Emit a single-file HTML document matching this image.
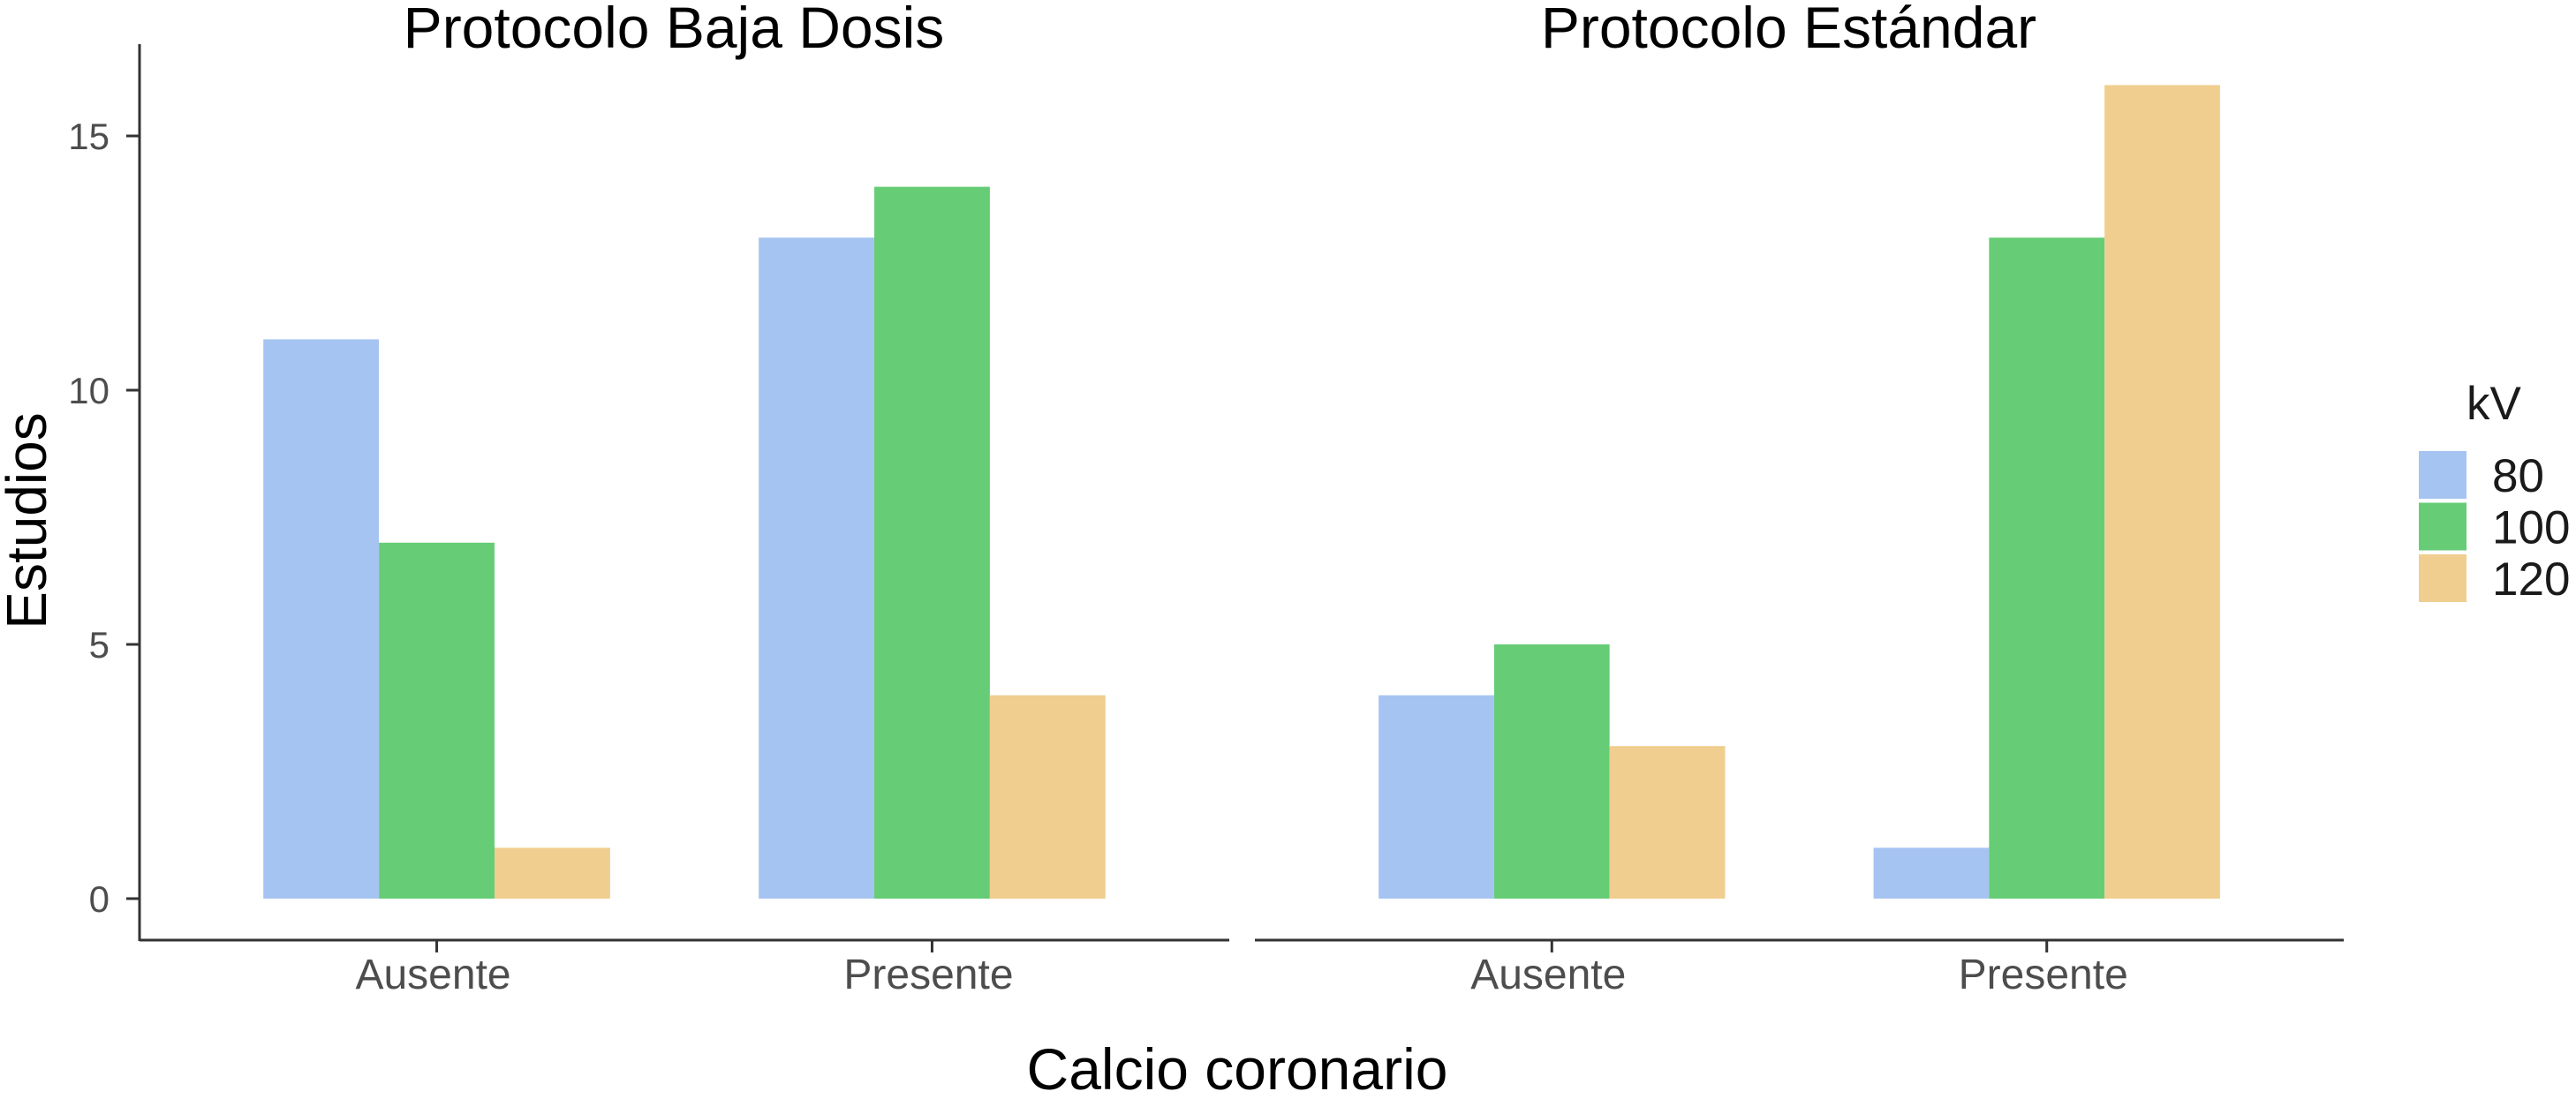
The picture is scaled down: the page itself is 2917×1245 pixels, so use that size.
<!DOCTYPE html>
<html><head><meta charset="utf-8"><style>
html,body{margin:0;padding:0;background:#fff;}
svg{display:block;font-family:"Liberation Sans",sans-serif;}
</style></head><body>
<svg id="chart" width="2917" height="1245" viewBox="0 0 2917 1245" xmlns="http://www.w3.org/2000/svg">
<g id="panels"></g>
<text x="0" y="0" transform="translate(52,590) rotate(-90)" text-anchor="middle" font-size="64" fill="#000">Estudios</text>
<text x="1401" y="1234" text-anchor="middle" font-size="66" fill="#000">Calcio coronario</text>
<g>
<text x="2793" y="475" font-size="53" fill="#1a1a1a">kV</text>
<g id="legend-items"></g>
</g>
</svg>
<script>
const panels = ["Protocolo Baja Dosis", "Protocolo Estándar"];
const categories = ["Ausente", "Presente"];
const series = ["80", "100", "120"];
const colors = ["#a6c4f2", "#66cd76", "#f0ce8f"];
const bajaValues = [[11, 7, 1], [13, 14, 4]];
const estandarValues = [[4, 5, 3], [1, 13, 16]];
const yTicks = [0, 5, 10, 15];

const NS = "http://www.w3.org/2000/svg";
const panelX = [[158, 1392], [1421, 2654]];
const y0 = 1018, unit = 57.6;
const yScale = v => y0 - v * unit;
function mk(tag, attrs, parent) {
  const e = document.createElementNS(NS, tag);
  for (const k in attrs) e.setAttribute(k, attrs[k]);
  parent.appendChild(e);
  return e;
}
const g = document.getElementById("panels");
const allValues = [bajaValues, estandarValues];
panels.forEach((title, p) => {
  const [x0, x1] = panelX[p];
  const step = (x1 - x0) / (categories.length - 1 + 1.2);
  const xScale = i => x0 + step * (0.6 + i);
  const t = mk("text", {x: (x0 + x1) / 2 - 12, y: 54, "text-anchor": "middle", "font-size": 66, fill: "#000"}, g);
  
  
  t.textContent = title;
  const ax = mk("line", {x1: x0, x2: x1, y1: 1065, y2: 1065, stroke: "#333", "stroke-width": 3}, g);
  
  
  const bw = step * 0.7 / series.length;
  categories.forEach((c, i) => {
    const cx = xScale(i);
    allValues[p][i].forEach((v, s) => {
      const r = mk("rect", {x: cx - step * 0.35 + s * bw, y: yScale(v), width: bw, height: y0 - yScale(v), fill: colors[s]}, g);
      
      
    });
    const tk = mk("line", {x1: cx, x2: cx, y1: 1065, y2: 1079, stroke: "#333", "stroke-width": 3}, g);
    
    
    const lb = mk("text", {x: cx - 4, y: 1120, "text-anchor": "middle", "font-size": 48, fill: "#4d4d4d"}, g);
    
    
    lb.textContent = c;
  });
  if (p === 0) {
    const ya = mk("line", {x1: x0, x2: x0, y1: 50, y2: 1066, stroke: "#333", "stroke-width": 3}, g);
    
    
    yTicks.forEach(v => {
      const tk = mk("line", {x1: x0 - 15, x2: x0, y1: yScale(v), y2: yScale(v), stroke: "#333", "stroke-width": 3}, g);
      
      
      const lb = mk("text", {x: x0 - 34, y: yScale(v) + 15, "text-anchor": "end", "font-size": 42, fill: "#4d4d4d"}, g);
      
      
      lb.textContent = v;
    });
  }
});
const lg = document.getElementById("legend-items");
series.forEach((s, i) => {
  const y = 511 + i * 58.5;
  const r = mk("rect", {x: 2739, y: y, width: 54, height: 54, fill: colors[i]}, lg);
  
  
  const t = mk("text", {x: 2822, y: y + 46, "font-size": 53, fill: "#1a1a1a"}, lg);
  
  
  t.textContent = s;
});
</script>
</body></html>
